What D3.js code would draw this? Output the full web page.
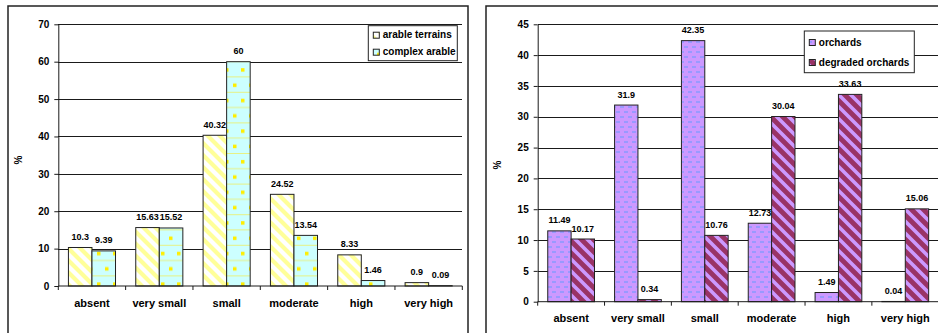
<!DOCTYPE html>
<html><head><meta charset="utf-8">
<script src="https://cdn.jsdelivr.net/npm/d3@7/dist/d3.min.js"></script>
<style>
html,body{margin:0;padding:0;background:#fff;}
svg{display:block;font-family:Arial,"Liberation Sans",sans-serif;}
text{font-weight:bold;fill:#000;}
</style></head>
<body>
<svg id="c" width="938" height="333"></svg>
<script>
const categories = ["absent","very small","small","moderate","high","very high"];
const leftSeries = ["arable terrains","complex arable"];
const arableTerrains = [10.3,15.63,40.32,24.52,8.33,0.9];
const complexArable = [9.39,15.52,60,13.54,1.46,0.09];
const leftTicks = [0,10,20,30,40,50,60,70];
const rightSeries = ["orchards","degraded orchards"];
const orchards = [11.49,31.9,42.35,12.73,1.49,0.04];
const degradedOrchards = [10.17,0.34,10.76,30.04,33.63,15.06];
const rightTicks = [0,5,10,15,20,25,30,35,40,45];

const svg = d3.select("#c");
const defs = svg.append("defs");

// patterns
let p = defs.append("pattern").attr("id","pArable").attr("patternUnits","userSpaceOnUse")
  .attr("width",12).attr("height",12);
p.append("rect").attr("width",12).attr("height",12).attr("fill","#fff");
p.append("path").attr("d","M-4,-4 L16,16 M-4,8 L4,16 M8,-4 L16,4").attr("stroke","#ffff99").attr("stroke-width",4.2);

p = defs.append("pattern").attr("id","pComplex").attr("patternUnits","userSpaceOnUse")
  .attr("width",16).attr("height",30.6);
p.append("rect").attr("width",16).attr("height",30.6).attr("fill","#ccffff");
p.append("rect").attr("x",0).attr("y",0).attr("width",16).attr("height",0.8).attr("fill","#eeee66");
p.append("rect").attr("x",0).attr("y",15.3).attr("width",16).attr("height",0.8).attr("fill","#eeee66");
p.append("rect").attr("x",1).attr("y",7).attr("width",3.5).attr("height",3.5).attr("fill","#ffee00");
p.append("rect").attr("x",9).attr("y",22.3).attr("width",3.5).attr("height",3.5).attr("fill","#ffee00");

p = defs.append("pattern").attr("id","pOrch").attr("patternUnits","userSpaceOnUse")
  .attr("width",8).attr("height",10);
p.append("rect").attr("width",8).attr("height",10).attr("fill","#cc99ff");
p.append("rect").attr("x",0).attr("y",1).attr("width",4).attr("height",2).attr("fill","#9999ff");
p.append("rect").attr("x",4).attr("y",6).attr("width",4).attr("height",2).attr("fill","#9999ff");

p = defs.append("pattern").attr("id","pDeg").attr("patternUnits","userSpaceOnUse")
  .attr("width",12).attr("height",12);
p.append("rect").attr("width",12).attr("height",12).attr("fill","#993366");
p.append("path").attr("d","M-4,-4 L16,16 M-4,8 L4,16 M8,-4 L16,4").attr("stroke","#cc99ff").attr("stroke-width",3.6);

function panel(cfg){
  const g = svg.append("g");
  g.append("rect").attr("x",cfg.frame[0]).attr("y",cfg.frame[1]).attr("width",cfg.frame[2]).attr("height",cfg.frame[3])
    .attr("fill","none").attr("stroke","#222").attr("stroke-width",1.5);
  const x = d3.scaleBand().domain(categories).range(cfg.xr).paddingInner(0).paddingOuter(0);
  const xs = d3.scaleBand().domain(cfg.series).range([0,x.bandwidth()]).paddingInner(0).paddingOuter(0.43);
  const y = d3.scaleLinear().domain([0,cfg.ticks[cfg.ticks.length-1]]).range(cfg.yr);

  // grid
  g.append("g").attr("transform",`translate(${cfg.xr[0]},0)`)
    .call(d3.axisLeft(y).tickValues(cfg.ticks.slice(1)).tickSize(-(cfg.xr[1]-cfg.xr[0])).tickFormat(""))
    .call(a=>a.select(".domain").remove())
    .call(a=>a.selectAll("line").attr("stroke","#1a1a1a").attr("shape-rendering","crispEdges"));

  // bars
  cfg.series.forEach((s,si)=>{
    g.append("g").selectAll("rect").data(cfg.values[si]).join("rect")
      .attr("x",(d,i)=>x(categories[i])+xs(s))
      .attr("width",xs.bandwidth())
      .attr("y",d=>y(d))
      .attr("height",d=>y(0)-y(d))
      .attr("fill",`url(#${cfg.fills[si]})`)
      .attr("stroke","#222").attr("stroke-width",1);
    g.append("g").selectAll("text").data(cfg.values[si]).join("text")
      .attr("x",(d,i)=>x(categories[i])+xs(s)+xs.bandwidth()/2)
      .attr("y",d=>y(d)-7.5)
      .attr("text-anchor","middle").attr("font-size",9)
      .text(d=>d);
  });

  // y axis
  g.append("g").attr("transform",`translate(${cfg.xr[0]},0)`)
    .call(d3.axisLeft(y).tickValues(cfg.ticks).tickSize(4).tickPadding(5).tickSizeOuter(0))
    .call(a=>a.selectAll("text").attr("font-size",10).attr("font-family","Arial,'Liberation Sans',sans-serif").attr("font-weight","bold"))
    .call(a=>a.selectAll("line,path").attr("stroke","#1a1a1a"));

  // x axis line + boundary ticks
  const bounds = categories.map(c=>x(c)).concat([x(categories[categories.length-1])+x.bandwidth()]);
  g.append("line").attr("x1",cfg.xr[0]).attr("x2",cfg.xr[1]).attr("y1",y(0)).attr("y2",y(0)).attr("stroke","#1a1a1a");
  g.append("g").selectAll("line").data(bounds).join("line")
    .attr("x1",d=>d).attr("x2",d=>d).attr("y1",y(0)).attr("y2",y(0)+4).attr("stroke","#1a1a1a");
  g.append("g").selectAll("text").data(categories).join("text")
    .attr("x",c=>x(c)+x.bandwidth()/2).attr("y",cfg.labelY)
    .attr("text-anchor","middle").attr("font-size",11).text(c=>c);

  // y title
  g.append("text").attr("transform",`translate(${cfg.pct[0]},${cfg.pct[1]}) rotate(-90)`)
    .attr("text-anchor","middle").attr("font-size",10).text("%");

  // legend
  const L = cfg.legend;
  g.append("rect").attr("x",L.x).attr("y",L.y).attr("width",L.w).attr("height",L.h)
    .attr("fill","#fff").attr("stroke","#222").attr("stroke-width",1);
  cfg.series.forEach((s,si)=>{
    const yy = L.y + L.first + si*L.step;
    g.append("rect").attr("x",L.x+5).attr("y",yy-6).attr("width",6).attr("height",6)
      .attr("fill",`url(#${cfg.fills[si]})`).attr("stroke","#222").attr("stroke-width",1);
    g.append("text").attr("x",L.x+14.5).attr("y",yy).attr("font-size",10).text(s);
  });
}

panel({frame:[8,6,460,340], xr:[58.3,462.3], yr:[286,24.3], series:leftSeries,
  values:[arableTerrains,complexArable], fills:["pArable","pComplex"], ticks:leftTicks,
  labelY:307, pct:[22,160],
  legend:{x:368.3,y:25.7,w:89,h:35,first:12.5,step:17}});

panel({frame:[486,6,460,340], xr:[537.7,938.7], yr:[301.7,24.3], series:rightSeries,
  values:[orchards,degradedOrchards], fills:["pOrch","pDeg"], ticks:rightTicks,
  labelY:322, pct:[501,165],
  legend:{x:804.3,y:31,w:110,h:41.7,first:14.5,step:20}});
</script>
</body></html>
